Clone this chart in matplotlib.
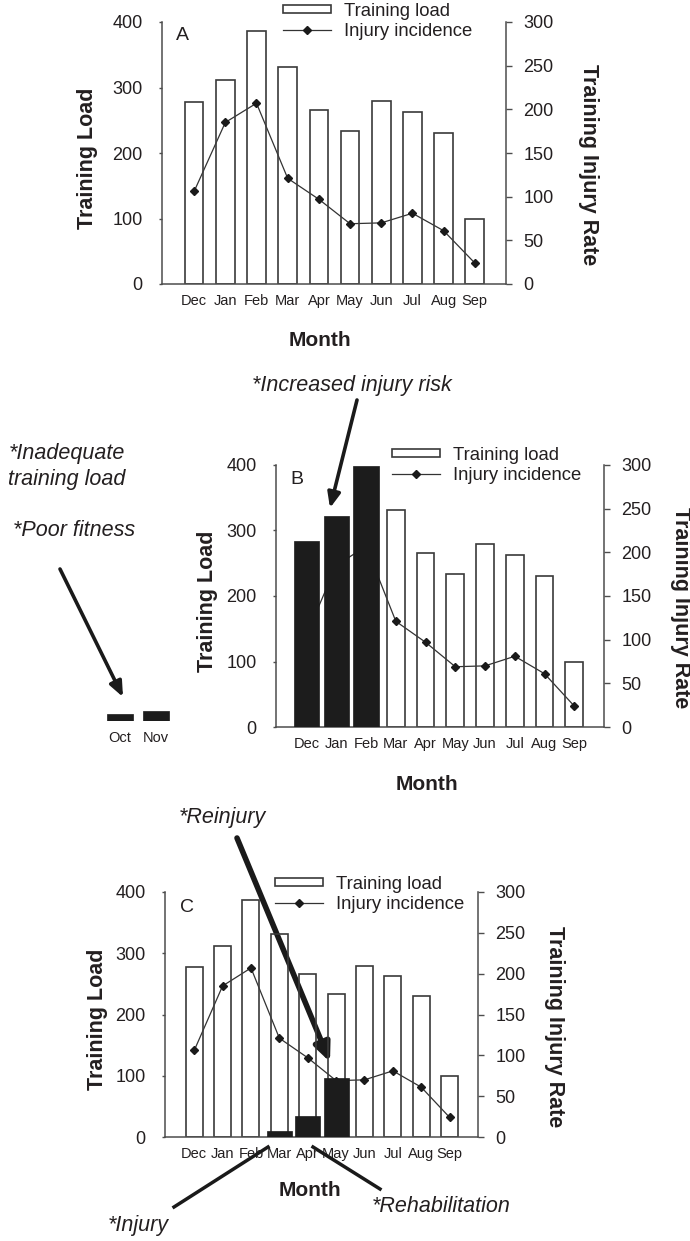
import numpy as np
import matplotlib
matplotlib.use("Agg")
import matplotlib.pyplot as plt
from matplotlib.patches import Rectangle
from matplotlib.lines import Line2D

plt.rcParams['font.family'] = ['Liberation Sans', 'DejaVu Sans']

# ---------------- data ----------------
months = ['Dec', 'Jan', 'Feb', 'Mar', 'Apr', 'May', 'Jun', 'Jul', 'Aug', 'Sep']
training_load = [278, 312, 387, 331, 266, 234, 280, 263, 231, 99]
injury_rate = [106, 185, 207, 121, 97, 69, 70, 81, 61, 24]

# panel B: overload period (Dec-Feb) and preceding under-load (Oct, Nov)
overload_months = ['Dec', 'Jan', 'Feb']
overload_values = [284, 322, 399]
preseason_months = ['Oct', 'Nov']
preseason_values = [11, 15]

# panel C: injury / rehabilitation (Mar-May)
rehab_months = ['Mar', 'Apr', 'May']
rehab_values = [10, 34, 96]

left_ticks = [0, 100, 200, 300, 400]
right_ticks = [0, 50, 100, 150, 200, 250, 300]

# ---------------- style ----------------
W, H = 690, 1241
TXT = '#231f20'
EDGE = '#3a3a3a'
SPINE = '#4d4d4d'
FILL = '#1c1c1c'

fig = plt.figure(figsize=(W / 100, H / 100), dpi=100)


def add_ax(l, r, t, b):
    return fig.add_axes([l / W, 1 - b / H, (r - l) / W, (b - t) / H])


def ftext(x, y, s, **kw):
    kw.setdefault('color', TXT)
    return fig.text(x / W, 1 - y / H, s, **kw)


def fp(x, y):
    return (x, H - y)


def panel(box, letter, letter_pos, ylab_x, ylab2_x, month_pos, legend_pos,
          hl_months=None, hl_values=None, hl_width=0.85):
    ax = add_ax(*box)
    ax2 = ax.twinx()
    ax.set_zorder(ax2.get_zorder() + 1)
    ax.patch.set_visible(False)

    x = np.arange(len(months))
    ax.bar(x, training_load, width=0.6, facecolor='none',
           edgecolor=EDGE, linewidth=1.2, zorder=2)
    ax2.plot(x, injury_rate, color='#333333', lw=0.9, marker='D',
             ms=4, mfc='#1a1a1a', mec='#1a1a1a', zorder=3)
    if hl_months is not None:
        hx = [months.index(m) for m in hl_months]
        ax.bar(hx, hl_values, width=hl_width, color=FILL, edgecolor=FILL,
               linewidth=0.5, zorder=4)

    ax.set_xlim(-1.03, 10.0)
    ax2.set_xlim(-1.03, 10.0)
    ax.set_ylim(0, 400)
    ax2.set_ylim(0, 300)
    ax.set_yticks(left_ticks)
    ax2.set_yticks(right_ticks)
    ax.set_xticks(x, months)

    for s in ['top', 'right']:
        ax.spines[s].set_visible(False)
    for s in ['top', 'left', 'bottom']:
        ax2.spines[s].set_visible(False)
    for sp in [ax.spines['left'], ax.spines['bottom'], ax2.spines['right']]:
        sp.set_color(SPINE)
        sp.set_linewidth(1.1)

    ax.tick_params(axis='x', length=0, pad=7, labelsize=10.5, labelcolor=TXT)
    ax.tick_params(axis='y', length=2.5, width=1, color=SPINE, pad=11.5,
                   labelsize=13, labelcolor=TXT)
    ax2.tick_params(axis='y', length=4.5, width=1, color=SPINE, pad=8,
                    labelsize=13, labelcolor=TXT)

    l, r, t, b = box
    ftext(ylab_x, (t + b) / 2 + 5, 'Training Load', rotation=90, ha='center',
          va='center', fontsize=15.5, fontweight='bold')
    ftext(ylab2_x, (t + b) / 2 + 12, 'Training Injury Rate', rotation=270,
          ha='center', va='center', fontsize=15.5, fontweight='bold')
    ftext(month_pos[0], month_pos[1], 'Month', ha='center', va='center',
          fontsize=15, fontweight='bold')
    ftext(letter_pos[0], letter_pos[1], letter, ha='center', va='center',
          fontsize=14)

    h_bar = Rectangle((0, 0), 1, 1, facecolor='none', edgecolor=EDGE, lw=1.2)
    h_line = Line2D([], [], color='#333333', lw=0.9, marker='D', ms=4,
                    mfc='#1a1a1a', mec='#1a1a1a')
    fig.legend([h_bar, h_line], ['Training load', 'Injury incidence'],
               loc='upper left',
               bbox_to_anchor=(legend_pos[0] / W, 1 - legend_pos[1] / H),
               frameon=False, borderpad=0, borderaxespad=0, fontsize=13.3,
               handlelength=2.6, handleheight=0.3, handletextpad=0.7,
               labelspacing=0.15, labelcolor=TXT)
    return ax


# ---------------- panel A ----------------
panel((162, 506, 22, 284), 'A', (182, 36), 88, 589, (320, 340), (283, 3))

# ---------------- panel B ----------------
panel((276, 604, 465, 727), 'B', (297, 480), 207, 680, (427, 784), (392, 447),
      hl_months=overload_months, hl_values=overload_values, hl_width=0.85)

# Oct/Nov preseason bars (same vertical scale as panel B)
px_per_unit = (727 - 465) / 400
axp = add_ax(84, 192, 721 - 60, 721)
axp.bar(np.arange(len(preseason_months)), preseason_values, width=0.72,
        color=FILL, edgecolor=FILL, linewidth=0.5)
axp.set_xlim(-1, 2)
axp.set_ylim(0, 60 / px_per_unit)
axp.set_xticks(np.arange(len(preseason_months)), preseason_months)
axp.set_yticks([])
axp.tick_params(axis='x', length=0, pad=7, labelsize=10.5, labelcolor=TXT)
for s in axp.spines.values():
    s.set_visible(False)
axp.patch.set_visible(False)

# ---------------- panel C ----------------
panel((165, 478, 892, 1137), 'C', (187, 908), 98, 554, (310, 1190), (275, 876),
      hl_months=rehab_months, hl_values=rehab_values, hl_width=0.88)

# ---------------- annotations ----------------
ital = dict(fontsize=15.5, fontstyle='italic')
ftext(352, 385, '*Increased injury risk', ha='center', va='center', **ital)
ftext(9, 454, '*Inadequate', ha='left', va='center', **ital)
ftext(8, 479, 'training load', ha='left', va='center', **ital)
ftext(13, 531, '*Poor fitness', ha='left', va='center', **ital)
ftext(179, 818, '*Reinjury', ha='left', va='center', **ital)
ftext(108, 1226, '*Injury', ha='left', va='center', **ital)
ftext(372, 1207, '*Rehabilitation', ha='left', va='center', **ital)

arrow_color = '#1a1a1a'
fig.axes[0].annotate('', xy=fp(330, 508), xytext=fp(357, 400),
                     xycoords='figure pixels', textcoords='figure pixels',
                     arrowprops=dict(arrowstyle='-|>,head_length=0.9,head_width=0.38',
                                     lw=2.6, color=arrow_color,
                                     mutation_scale=10, shrinkA=0, shrinkB=0))
fig.axes[0].annotate('', xy=fp(123, 697), xytext=fp(60, 569),
                     xycoords='figure pixels', textcoords='figure pixels',
                     arrowprops=dict(arrowstyle='-|>,head_length=0.9,head_width=0.38',
                                     lw=2.6, color=arrow_color,
                                     mutation_scale=10, shrinkA=0, shrinkB=0))
fig.axes[0].annotate('', xy=fp(330, 1062), xytext=fp(237, 838),
                     xycoords='figure pixels', textcoords='figure pixels',
                     arrowprops=dict(arrowstyle='-|>,head_length=0.9,head_width=0.4',
                                     lw=4, color=arrow_color,
                                     mutation_scale=12, shrinkA=0, shrinkB=0))
fig.add_artist(Line2D([174 / W, 268 / W], [1 - 1207 / H, 1 - 1147 / H],
                      color=arrow_color, lw=2.5))
fig.add_artist(Line2D([313 / W, 380 / W], [1 - 1147 / H, 1 - 1189 / H],
                      color=arrow_color, lw=2.5))

fig.savefig('out.png', dpi=100, facecolor='white')
